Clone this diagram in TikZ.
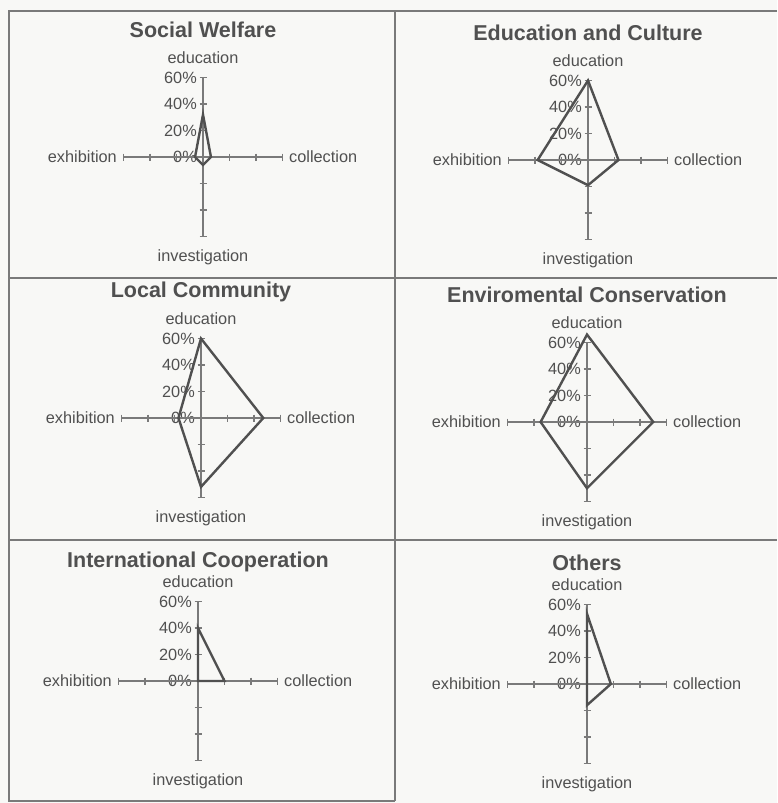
\documentclass[tikz,border=0pt]{standalone}
\usepackage{fontspec}
\setmainfont{Liberation Sans}
\definecolor{ink}{HTML}{505050}
\definecolor{rulegray}{HTML}{7A7A7A}
\definecolor{paper}{HTML}{F8F8F6}

\begin{document}
\begin{tikzpicture}[x=1pt, y=-1pt,
  lbl/.style={text=ink, font=\fontsize{16.3}{18}\selectfont, inner sep=1pt},
  ttl/.style={text=ink, font=\bfseries\fontsize{21.5}{24}\selectfont, inner sep=1pt},
  axisline/.style={draw=rulegray, line width=1.2pt},
  poly/.style={draw=ink, line width=2.4pt},
  frame/.style={draw=rulegray, line width=2pt}]

\useasboundingbox[fill=paper] (0,0) rectangle (777,803);

% panel frame
\draw[frame] (777,11) -- (9,11) -- (9,801) -- (395,801);
\draw[frame] (395,11) -- (395,801);
\draw[frame] (9,278) -- (777,278);
\draw[frame] (9,540) -- (777,540);

% one radar per panel: centre, title height, title, education/collection/investigation/exhibition in %
\foreach \n/\cx/\cy/\ty/\name/\pe/\pc/\pv/\pw in {
  1/203/157/127/Social Welfare/32/6/6/6,
  2/588/160/127/Education and Culture/60/23/19/38,
  3/201/418/126/Local Community/60/47/52/17,
  4/587/422/127/Enviromental Conservation/66/50/50/35,
  5/198/681/119/International Cooperation/40/20/0/0,
  6/587/684/121/Others/53/18/16/0}
{
\begin{scope}[shift={(\cx,\cy)}]
  \node[ttl] (title\n) at (0,-\ty) {\name};
  \node[lbl] (edu\n) at (0,-99) {education};
  \node[lbl] (inv\n) at (0,100) {investigation};
  \node[lbl, anchor=east] (exh\n) at (-85,0) {exhibition};
  \node[lbl, anchor=west] (col\n) at (85,0) {collection};
  \foreach \p/\k in {0/0, 20/1, 40/2, 60/3}
    \node[lbl, anchor=east] (pct\n-\k) at (-5,-\k*26.5) {\p\%};

  \draw[axisline] (-79.5,0) -- (79.5,0);
  \draw[axisline] (0,-79.5) -- (0,79.5);
  \foreach \k in {-3,-2,-1,1,2,3} {
    \draw[axisline] (\k*26.5,-3.5) -- (\k*26.5,3.5);
    \draw[axisline] (-3.5,\k*26.5) -- (3.5,\k*26.5);
  }

  \draw[poly] (0,-\pe*1.325) -- (\pc*1.325,0) -- (0,\pv*1.325)
              -- (-\pw*1.325,0) -- cycle;
\end{scope}
}

\end{tikzpicture}
\end{document}
